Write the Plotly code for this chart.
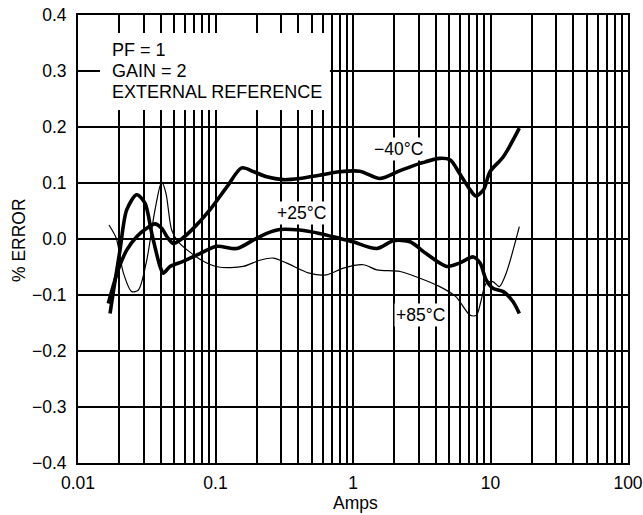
import plotly.graph_objects as go

# ---- data ----
x_m40 = [0.0166, 0.0196, 0.0226, 0.0267, 0.0316, 0.0363, 0.0406, 0.0453, 0.0494, 0.0552, 0.069, 0.091, 0.121, 0.155,
         0.19, 0.236, 0.31, 0.41, 0.57, 0.80, 1.12, 1.57, 2.2, 3.07, 4.28, 5.1, 5.96, 7.1, 7.8, 8.9, 9.9, 12.4, 16.2]
y_m40 = [-0.115, -0.055, -0.02, 0.004, 0.019, 0.027, 0.019, 0.001, -0.008, -0.002, 0.019, 0.052, 0.093, 0.127,
         0.120, 0.111, 0.106, 0.108, 0.114, 0.120, 0.121, 0.108, 0.122, 0.135, 0.144, 0.141, 0.117, 0.088, 0.077, 0.088, 0.12, 0.147, 0.198]

x_p25 = [0.0171, 0.018, 0.0202, 0.0226, 0.0267, 0.0307, 0.0344, 0.0395, 0.0417, 0.0467, 0.0583, 0.077, 0.102, 0.143,
         0.188, 0.236, 0.294, 0.41, 0.57, 0.80, 1.0, 1.49, 1.97, 2.6, 3.4, 4.8, 5.96, 7.5, 8.4, 9.3, 10.4, 12.4, 14.6, 16.2]
y_p25 = [-0.133, -0.097, -0.02, 0.052, 0.079, 0.064, 0.010, -0.049, -0.061, -0.049, -0.040, -0.026, -0.013, -0.017,
         -0.002, 0.010, 0.017, 0.016, 0.010, 0.001, -0.005, -0.017, -0.003, -0.005, -0.026, -0.049, -0.043, -0.032, -0.043, -0.073, -0.088, -0.094, -0.112, -0.133]

x_p85 = [0.0168, 0.019, 0.0214, 0.0246, 0.0275, 0.0316, 0.0363, 0.0406, 0.0436, 0.048, 0.0536, 0.077, 0.105, 0.159,
         0.21, 0.263, 0.33, 0.48, 0.64, 0.85, 1.19, 1.49, 2.2, 3.07, 4.28, 5.6, 7.1, 7.9, 8.5, 9.3, 10.4, 11.6, 13.0, 16.2]
y_p85 = [0.025, 0.001, -0.061, -0.094, -0.091, -0.038, 0.052, 0.102, 0.082, 0.016, -0.005, -0.036, -0.050, -0.049,
         -0.038, -0.034, -0.043, -0.061, -0.064, -0.052, -0.046, -0.055, -0.058, -0.070, -0.085, -0.103, -0.136, -0.136, -0.112, -0.079, -0.076, -0.085, -0.061, 0.022]

x_decades = [0.01, 0.1, 1, 10, 100]
x_decade_labels = ["0.01", "0.1", "1", "10", "100"]
y_ticks = [-0.4, -0.3, -0.2, -0.1, 0.0, 0.1, 0.2, 0.3, 0.4]
y_tick_labels = ["\u22120.4", "\u22120.3", "\u22120.2", "\u22120.1", "0.0", "0.1", "0.2", "0.3", "0.4"]

info_lines = ["PF = 1", "GAIN = 2", "EXTERNAL REFERENCE"]
curve_labels = ["\u221240\u00b0C", "+25\u00b0C", "+85\u00b0C"]

# gridline positions (every 1..9 x decade), labels only on decades
x_grid = []
x_grid_text = []
for i, d in enumerate(x_decades[:-1]):
    for k in range(1, 10):
        x_grid.append(d * k)
        x_grid_text.append(x_decade_labels[i] if k == 1 else "")
x_grid.append(x_decades[-1])
x_grid_text.append(x_decade_labels[-1])

FONT = "Liberation Sans, Arial, sans-serif"
FS = 17.5

fig = go.Figure()
fig.add_trace(go.Scatter(x=x_p85, y=y_p85, mode="lines", hoverinfo="skip",
                         line=dict(color="black", width=1.2, shape="spline", smoothing=0.8)))
fig.add_trace(go.Scatter(x=x_p25, y=y_p25, mode="lines", hoverinfo="skip",
                         line=dict(color="black", width=3.6, shape="spline", smoothing=0.8)))
fig.add_trace(go.Scatter(x=x_m40, y=y_m40, mode="lines", hoverinfo="skip",
                         line=dict(color="black", width=3.6, shape="spline", smoothing=0.8)))

fig.update_layout(
    width=643, height=515,
    margin=dict(l=78, r=15, t=15, b=52),
    paper_bgcolor="white", plot_bgcolor="white",
    showlegend=False,
    font=dict(family=FONT, size=FS, color="black"),
    xaxis=dict(
        type="log", range=[-2, 2], automargin=False,
        tickvals=x_grid, ticktext=x_grid_text,
        showgrid=True, gridcolor="black", gridwidth=2,
        showline=True, linecolor="black", linewidth=2, mirror=True,
        ticks="", ticklabelstandoff=3, zeroline=False,
        ticklabeloverflow="allow",
        tickfont=dict(size=FS),
    ),
    yaxis=dict(
        range=[-0.4, 0.4], automargin=False,
        tickvals=y_ticks, ticktext=y_tick_labels,
        showgrid=True, gridcolor="black", gridwidth=2,
        showline=True, linecolor="black", linewidth=2, mirror=True,
        ticks="", ticklabelstandoff=6, zeroline=False,
        ticklabeloverflow="allow",
        tickfont=dict(size=FS),
    ),
)

# axis titles
fig.add_annotation(xref="paper", yref="paper", x=0.504, y=-0.089, text="Amps", showarrow=False,
                   xanchor="center", yanchor="middle", font=dict(size=FS, family=FONT))
fig.add_annotation(xref="paper", yref="paper", x=-0.107, y=0.498, text="% ERROR", showarrow=False,
                   textangle=-90, xanchor="center", yanchor="middle", font=dict(size=FS, family=FONT))

# info box (white panel over the grid)
fig.add_shape(type="rect", xref="paper", yref="paper", x0=0.04, x1=0.458, y0=0.788, y1=0.96,
              fillcolor="white", line=dict(width=0), layer="above")
for txt, yp in zip(info_lines, [0.922, 0.875, 0.828]):
    fig.add_annotation(xref="paper", yref="paper", x=0.058, y=yp, xanchor="left", yanchor="middle",
                       text=txt, showarrow=False, font=dict(size=18, family=FONT))

# curve labels with white background
for txt, xp, yp in zip(curve_labels, [0.582, 0.407, 0.622], [0.701, 0.557, 0.331]):
    fig.add_annotation(
        xref="paper", yref="paper", x=xp, y=yp, xanchor="center", yanchor="middle",
        text=txt, showarrow=False, bgcolor="white", borderpad=1, font=dict(size=FS, family=FONT),
    )

# remove the default page margin so the 643x515 figure fills the window exactly
fig.write_html("out.html", config={"displayModeBar": False},
               post_script="document.body.style.margin='0';")
